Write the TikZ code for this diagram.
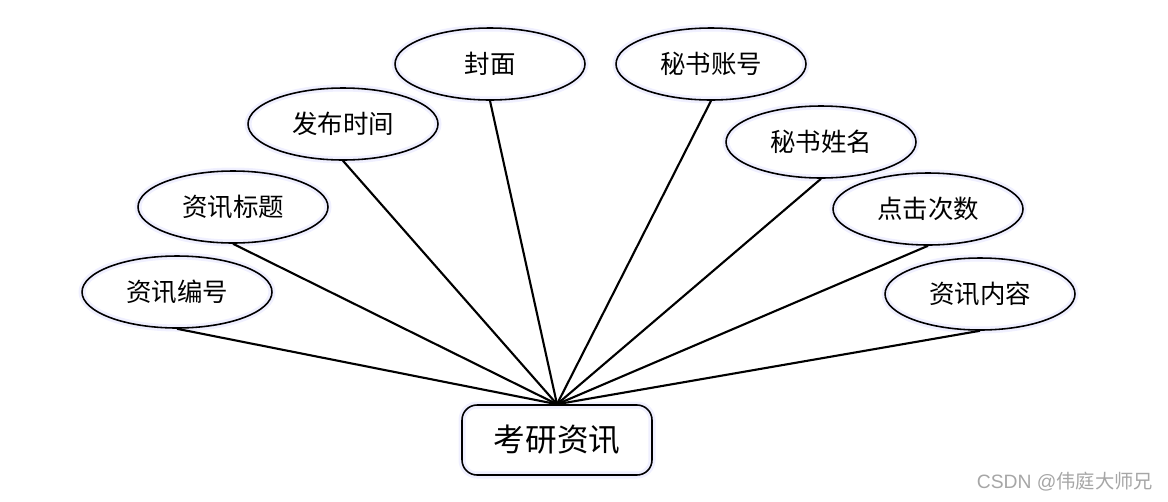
\documentclass[tikz,border=0pt]{standalone}
\usepackage{fontspec}
\setmainfont{Noto Sans CJK SC}
\setsansfont{Liberation Sans}
\newfontfamily\cjkmark{Noto Sans CJK SC}
\usetikzlibrary{shapes.geometric}
\begin{document}
\begin{tikzpicture}[
  x=0.02cm, y=-0.02cm,
  attr/.style={draw, line width=0.9pt, ellipse, minimum width=3.8cm, minimum height=1.44cm, inner sep=0pt,
    font=\fontsize{14.5}{16}\selectfont, preaction={draw=blue!6, line width=4pt}},
  entity/.style={draw, line width=0.9pt, rounded corners=0.3cm, minimum width=3.8cm, minimum height=1.4cm,
    font=\fontsize{18}{20}\selectfont, preaction={draw=blue!6, line width=4pt}},
  link/.style={line width=1.2pt}
]
\useasboundingbox (0,0) rectangle (1168,501);
\node[entity] (news) at (557,440) {考研资讯};
\node[attr] (no) at (177,292) {资讯编号};
\node[attr] (title) at (233,207) {资讯标题};
\node[attr] (time) at (343,124) {发布时间};
\node[attr] (cover) at (490,64) {封面};
\node[attr] (acct) at (711,64) {秘书账号};
\node[attr] (name) at (821,142) {秘书姓名};
\node[attr] (clicks) at (928,209) {点击次数};
\node[attr] (body) at (980,294) {资讯内容};
\draw[link] (no.south) -- (news.north);
\draw[link] (title.south) -- (news.north);
\draw[link] (time.south) -- (news.north);
\draw[link] (cover.south) -- (news.north);
\draw[link] (acct.south) -- (news.north);
\draw[link] (name.south) -- (news.north);
\draw[link] (clicks.south) -- (news.north);
\draw[link] (body.south) -- (news.north);
% watermark
\node[text=gray!70, font=\fontsize{11}{13}\selectfont] (mark) at (1065,482) {\sffamily CSDN @\cjkmark 伟庭大师兄};
\end{tikzpicture}
\end{document}
